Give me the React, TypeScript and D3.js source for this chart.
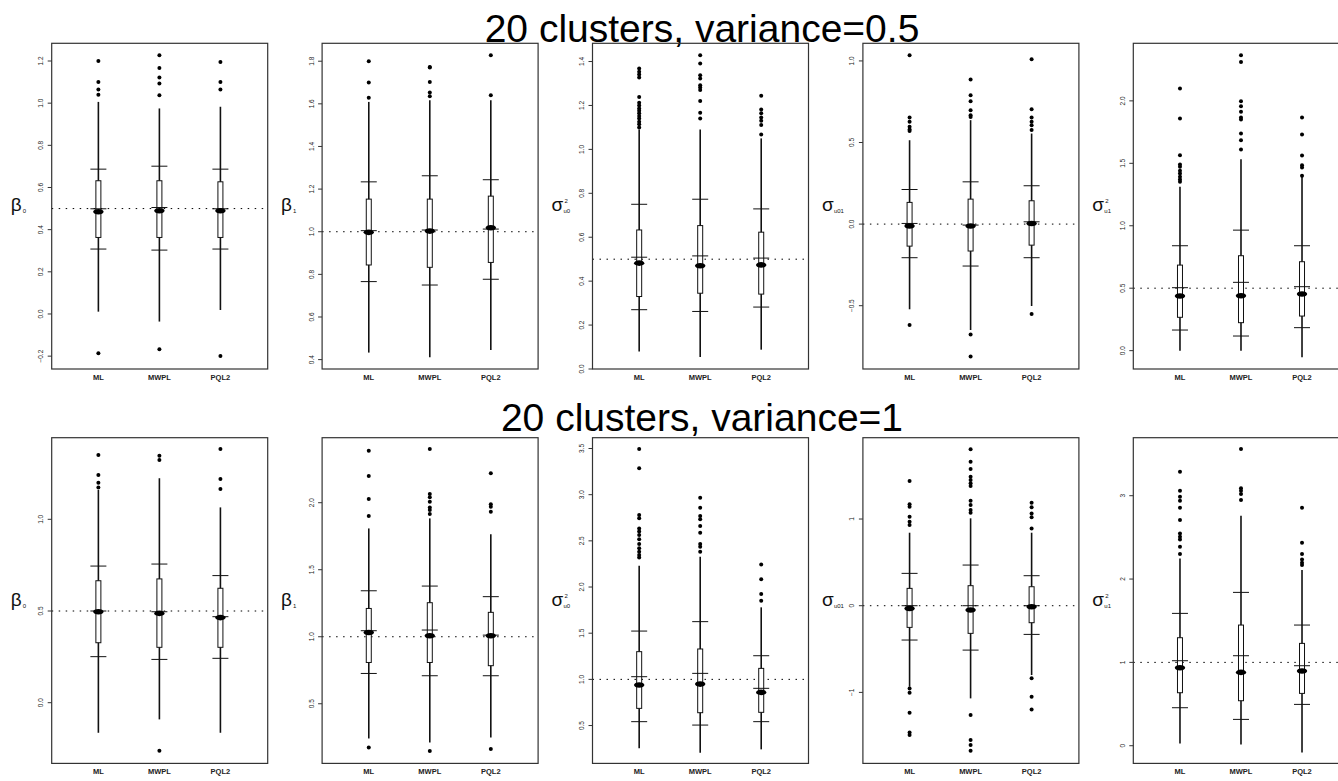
import React from "react";
import * as d3 from "d3";

const methods = ["ML", "MWPL", "PQL2"];
const rowTitles = ["20 clusters, variance=0.5", "20 clusters, variance=1"];

// Per method: [whisker low, lower bar, Q1, median, middle bar, Q3, upper bar, whisker high]
const b0Half = [
  [0.011, 0.308, 0.363, 0.485, 0.499, 0.632, 0.687, 1.006],
  [-0.036, 0.303, 0.363, 0.49, 0.505, 0.632, 0.701, 0.975],
  [0.019, 0.308, 0.363, 0.49, 0.499, 0.627, 0.687, 0.983],
];
const b0HalfOut = [
  [1.2, 1.1, 1.065, 1.04, -0.186],
  [1.227, 1.167, 1.122, 1.093, 1.038, -0.167],
  [1.195, 1.1, 1.065, -0.199],
];
const b1Half = [
  [0.433, 0.766, 0.844, 0.997, 1.005, 1.153, 1.234, 1.609],
  [0.411, 0.75, 0.833, 1.003, 1.008, 1.153, 1.2625, 1.617],
  [0.445, 0.777, 0.856, 1.019, 1.0125, 1.167, 1.244, 1.617],
];
const b1HalfOut = [
  [1.8, 1.7, 1.628],
  [1.773, 1.77, 1.703, 1.653, 1.636],
  [1.828, 1.64],
];
const u0Half = [
  [0.08, 0.27, 0.33, 0.482, 0.509, 0.633, 0.75, 1.091],
  [0.055, 0.262, 0.345, 0.47, 0.515, 0.653, 0.773, 1.091],
  [0.088, 0.282, 0.341, 0.474, 0.505, 0.623, 0.729, 1.05],
];
const u0HalfOut = [
  [1.368, 1.353, 1.341, 1.327, 1.239, 1.212, 1.2, 1.186, 1.176, 1.164, 1.152, 1.141, 1.126, 1.114, 1.1],
  [1.429, 1.391, 1.338, 1.323, 1.292, 1.282, 1.27, 1.22, 1.167, 1.141],
  [1.244, 1.182, 1.164, 1.145, 1.13, 1.111, 1.068],
];
const u01Half = [
  [-0.522, -0.206, -0.135, -0.012, 0.004, 0.133, 0.212, 0.514],
  [-0.649, -0.257, -0.165, -0.012, -0.006, 0.153, 0.259, 0.637],
  [-0.502, -0.206, -0.129, 0.004, 0.014, 0.143, 0.235, 0.555],
];
const u01HalfOut = [
  [1.035, 0.653, 0.627, 0.596, 0.58, 0.571, -0.618],
  [0.886, 0.79, 0.753, 0.698, 0.667, 0.657, -0.676, -0.812],
  [1.01, 0.704, 0.653, 0.627, 0.606, 0.576, -0.551],
];
const u1Half = [
  [0, 0.165, 0.267, 0.437, 0.504, 0.685, 0.84, 1.312],
  [0, 0.117, 0.224, 0.44, 0.547, 0.76, 0.965, 1.533],
  [-0.053, 0.184, 0.277, 0.453, 0.512, 0.712, 0.84, 1.392],
];
const u1HalfOut = [
  [2.099, 1.859, 1.565, 1.491, 1.472, 1.44, 1.419, 1.392, 1.371, 1.352],
  [2.365, 2.312, 1.997, 1.957, 1.912, 1.867, 1.851, 1.739, 1.685, 1.611],
  [1.867, 1.731, 1.563, 1.485, 1.467, 1.4],
];

const b0One = [
  [-0.164, 0.251, 0.327, 0.496, 0.5, 0.665, 0.745, 1.16],
  [-0.091, 0.236, 0.302, 0.487, 0.496, 0.675, 0.756, 1.224],
  [-0.164, 0.242, 0.302, 0.464, 0.469, 0.624, 0.693, 1.065],
];
const b0OneOut = [
  [1.351, 1.242, 1.2, 1.173],
  [1.347, 1.324, -0.262],
  [1.384, 1.22, 1.165],
];
const b1One = [
  [0.241, 0.726, 0.808, 1.032, 1.045, 1.211, 1.343, 1.808],
  [0.211, 0.709, 0.808, 1.007, 1.05, 1.254, 1.378, 1.883],
  [0.249, 0.709, 0.784, 1.007, 1.012, 1.182, 1.299, 1.764],
];
const b1OneOut = [
  [2.388, 2.199, 2.027, 1.9, 0.174],
  [2.4, 2.065, 2.04, 2.007, 1.965, 1.945, 1.915, 0.147],
  [2.219, 1.988, 1.97, 1.933, 0.162],
];
const u0One = [
  [0.253, 0.542, 0.686, 0.939, 1.029, 1.3, 1.523, 2.231],
  [0.206, 0.505, 0.639, 0.949, 1.065, 1.329, 1.625, 2.329],
  [0.242, 0.542, 0.643, 0.859, 0.903, 1.119, 1.256, 1.78],
];
const u0OneOut = [
  [3.495, 3.285, 2.78, 2.744, 2.635, 2.6, 2.563, 2.516, 2.466, 2.419, 2.383, 2.347, 2.321],
  [2.968, 2.859, 2.769, 2.733, 2.661, 2.588, 2.466, 2.437, 2.383],
  [2.245, 2.083, 1.924, 1.852],
];
const u01One = [
  [-0.935, -0.396, -0.25, -0.031, 0, 0.2, 0.373, 0.842],
  [-1.069, -0.512, -0.319, -0.05, 0, 0.231, 0.469, 1.008],
  [-0.8, -0.331, -0.196, -0.012, 0, 0.219, 0.346, 0.842],
];
const u01OneOut = [
  [1.438, 1.169, 1.142, 1.027, 0.969, 0.931, -0.954, -1.004, -1.235, -1.462, -1.492],
  [1.804, 1.662, 1.577, 1.488, 1.45, 1.412, 1.381, 1.212, 1.162, 1.104, 1.073, -1.262, -1.55, -1.608, -1.673],
  [1.188, 1.135, 1.065, 1.019, 0.892, -0.838, -1.05, -1.196],
];
const u1One = [
  [0.028, 0.456, 0.636, 0.936, 1.02, 1.296, 1.588, 2.248],
  [0.016, 0.316, 0.54, 0.88, 1.08, 1.448, 1.84, 2.76],
  [-0.08, 0.496, 0.628, 0.896, 0.96, 1.228, 1.448, 2.108],
];
const u1OneOut = [
  [3.288, 3.06, 2.988, 2.94, 2.856, 2.708, 2.548, 2.508, 2.476, 2.388, 2.3],
  [3.56, 3.088, 3.06, 3.02, 2.948],
  [2.856, 2.436, 2.3, 2.236, 2.196, 2.168],
];

// True parameter values (dotted reference lines)
const trueHalf = [0.5, 1, 0.5, 0, 0.5];
const trueOne = [0.5, 1, 1, 0, 1];

// Axis extents and tick values
const domainsHalf = [[-0.261, 1.284], [0.356, 1.884], [0, 1.483], [-0.888, 1.108], [-0.147, 2.461]];
const domainsOne = [[-0.331, 1.445], [0.055, 2.485], [0.09, 3.617], [-1.819, 1.938], [-0.212, 3.696]];
const ticksHalf = [
  [-0.2, 0, 0.2, 0.4, 0.6, 0.8, 1.0, 1.2],
  [0.4, 0.6, 0.8, 1.0, 1.2, 1.4, 1.6, 1.8],
  [0, 0.2, 0.4, 0.6, 0.8, 1.0, 1.2, 1.4],
  [-0.5, 0, 0.5, 1.0],
  [0, 0.5, 1.0, 1.5, 2.0],
];
const ticksOne = [
  [0, 0.5, 1.0],
  [0.5, 1.0, 1.5, 2.0],
  [0.5, 1.0, 1.5, 2.0, 2.5, 3.0, 3.5],
  [-1, 0, 1],
  [0, 1, 2, 3],
];

// Y-axis symbols: [letter, superscript, subscript]
const paramLabels = [
  ["β", "", "0"],
  ["β", "", "1"],
  ["σ", "2", "u0"],
  ["σ", "", "u01"],
  ["σ", "2", "u1"],
];

const statsHalf = [b0Half, b1Half, u0Half, u01Half, u1Half];
const outHalf = [b0HalfOut, b1HalfOut, u0HalfOut, u01HalfOut, u1HalfOut];
const statsOne = [b0One, b1One, u0One, u01One, u1One];
const outOne = [b0OneOut, b1OneOut, u0OneOut, u01OneOut, u1OneOut];

const W = 1338;
const H = 781;
const panelLeft0 = 51.7;
const panelStep = 270.4;
const panelW = 216;
const panelH = 325.7;
const rowTops = [43.3, 437.7];
const titleBaselines = [41.5, 431];

const FONT = "'Liberation Sans', Arial, sans-serif";

type PanelProps = {
  left: number;
  top: number;
  stats: number[][];
  outliers: number[][];
  domain: number[];
  ticks: number[];
  truth: number;
  label: string[];
  fmtInt: boolean;
};

function Panel({ left, top, stats, outliers, domain, ticks, truth, label, fmtInt }: PanelProps) {
  const y = d3.scaleLinear().domain(domain).range([top + panelH, top]);
  const x = d3.scaleLinear().domain([0.235, 3.775]).range([left, left + panelW]);
  const fmt = fmtInt ? d3.format("d") : d3.format(".1f");
  const cy = top + panelH / 2;
  const [sym, sup, sub] = label;
  const symX = left - 41;
  return (
    <g>
      {/* reference line at the true value */}
      <line
        x1={left}
        x2={left + panelW}
        y1={y(truth)}
        y2={y(truth)}
        stroke="#000"
        strokeWidth={1}
        strokeDasharray="1.5,5.5"
      />
      {stats.map((s, i) => {
        const cx = x(i + 1);
        const [lo, lowBar, q1, med, midBar, q3, upBar, hi] = s;
        return (
          <g key={i}>
            <line x1={cx} x2={cx} y1={y(lo)} y2={y(hi)} stroke="#111" strokeWidth={1.6} />
            <rect
              x={cx - 2.5}
              y={y(q3)}
              width={5}
              height={y(q1) - y(q3)}
              fill="#fff"
              stroke="#111"
              strokeWidth={1}
            />
            {[lowBar, midBar, upBar].map((v, k) => (
              <line key={k} x1={cx - 8} x2={cx + 8} y1={y(v)} y2={y(v)} stroke="#111" strokeWidth={1} />
            ))}
            <ellipse cx={cx} cy={y(med)} rx={5.2} ry={2.8} fill="#000" />
            {outliers[i].map((v, k) => (
              <circle key={k} cx={cx} cy={y(v)} r={2} fill="#000" />
            ))}
          </g>
        );
      })}
      <rect x={left} y={top} width={panelW} height={panelH} fill="none" stroke="#333" strokeWidth={1.2} />
      {ticks.map((t) => (
        <g key={t}>
          <line x1={left - 4} x2={left} y1={y(t)} y2={y(t)} stroke="#333" strokeWidth={1} />
          <text
            transform={`translate(${left - 8.5},${y(t)}) rotate(-90)`}
            textAnchor="middle"
            fontSize={6.5}
            fontFamily={FONT}
            fill="#222"
          >
            {fmt(t)}
          </text>
        </g>
      ))}
      {methods.map((m, i) => (
        <text
          key={m}
          x={x(i + 1)}
          y={top + panelH + 11}
          textAnchor="middle"
          fontSize={7.5}
          fontWeight="bold"
          fontFamily={FONT}
          fill="#222"
        >
          {m}
        </text>
      ))}
      <text x={symX} y={cy + 5} fontSize={19} fontFamily={FONT} fill="#111">
        {sym}
      </text>
      {sup && (
        <text x={symX + 13} y={cy - 3} fontSize={6} fontFamily={FONT} fill="#111">
          {sup}
        </text>
      )}
      <text x={symX + 12} y={cy + 7} fontSize={6} fontFamily={FONT} fill="#111">
        {sub}
      </text>
    </g>
  );
}

export default function App() {
  const rows = [
    { stats: statsHalf, out: outHalf, truth: trueHalf, domains: domainsHalf, ticks: ticksHalf },
    { stats: statsOne, out: outOne, truth: trueOne, domains: domainsOne, ticks: ticksOne },
  ];
  return (
    <svg
      width={W}
      height={H}
      style={{ position: "absolute", left: 0, top: 0, background: "#fff" }}
    >
      <rect width={W} height={H} fill="#fff" />
      {rows.map((r, ri) => (
        <g key={ri}>
          <text
            x={702}
            y={titleBaselines[ri]}
            textAnchor="middle"
            fontSize={39}
            fontFamily={FONT}
            fill="#000"
          >
            {rowTitles[ri]}
          </text>
          {r.stats.map((s, pi) => (
            <Panel
              key={pi}
              left={panelLeft0 + pi * panelStep}
              top={rowTops[ri]}
              stats={s}
              outliers={r.out[pi]}
              domain={r.domains[pi]}
              ticks={r.ticks[pi]}
              truth={r.truth[pi]}
              label={paramLabels[pi]}
              fmtInt={ri === 1 && pi >= 3}
            />
          ))}
        </g>
      ))}
    </svg>
  );
}
